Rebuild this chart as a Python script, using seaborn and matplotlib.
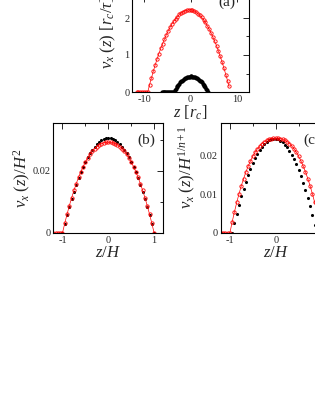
import numpy as np
import matplotlib
matplotlib.use('Agg')
import matplotlib.pyplot as plt
import seaborn as sns
from matplotlib.ticker import MultipleLocator, FuncFormatter

# panel (a): velocity profiles in units of r_c / tau
a_z_red = [-11.6, -11.2, -10.8, -10.4, -10.0, -9.6, -9.2, -8.8, -8.4, -8.0, -7.6, -7.2, -6.8, -6.4,
           -6.0, -5.6, -5.2, -4.8, -4.4, -4.0, -3.6, -3.2, -2.8, -2.4, -2.0, -1.6, -1.2, -0.8, -0.4,
           0.0, 0.4, 0.8, 1.2, 1.6, 2.0, 2.4, 2.8, 3.2, 3.6, 4.0, 4.4, 4.8, 5.2, 5.6, 6.0, 6.4, 6.8,
           7.2, 7.6, 8.0, 8.3]
a_v_red = [0, 0, 0, 0, 0, 0, 0, 0.20, 0.38, 0.56, 0.73, 0.89, 1.04, 1.18,
           1.31, 1.43, 1.55, 1.65, 1.75, 1.84, 1.91, 1.98, 2.04, 2.10, 2.14, 2.17, 2.20, 2.21, 2.22,
           2.22, 2.21, 2.19, 2.16, 2.12, 2.07, 2.02, 1.95, 1.88, 1.79, 1.70, 1.60, 1.49, 1.37, 1.25,
           1.11, 0.96, 0.81, 0.64, 0.47, 0.29, 0.15]
a_z_black = [-6.2, -6.0, -5.8, -5.6, -5.4, -5.2, -5.0, -4.8, -4.6, -4.4, -4.2, -4.0, -3.8, -3.6,
             -3.4, -3.2, -3.0, -2.8, -2.6, -2.4, -2.2, -2.0, -1.8, -1.6, -1.4, -1.2, -1.0, -0.8,
             -0.6, -0.4, -0.2, 0.0, 0.2, 0.4, 0.6, 0.8, 1.0, 1.2, 1.4, 1.6, 1.8, 2.0, 2.2, 2.4,
             2.6, 2.8, 3.0, 3.2, 3.4, 3.6, 3.8]
a_v_black = [0, 0, 0, 0, 0, 0, 0, 0, 0, 0, 0, 0, 0, 0,
             0.044, 0.086, 0.125, 0.162, 0.196, 0.228, 0.258, 0.285, 0.309, 0.331, 0.351, 0.368,
             0.383, 0.395, 0.405, 0.412, 0.417, 0.420, 0.420, 0.417, 0.412, 0.405, 0.395, 0.383,
             0.368, 0.351, 0.331, 0.309, 0.285, 0.258, 0.228, 0.196, 0.162, 0.125, 0.086, 0.044, 0]

# panels (b) and (c): scaled profiles vs z/H
zh = [-1.0, -0.95, -0.9, -0.85, -0.8, -0.75, -0.7, -0.65, -0.6, -0.55, -0.5, -0.45, -0.4, -0.35,
      -0.3, -0.25, -0.2, -0.15, -0.1, -0.05, 0.0, 0.05, 0.1, 0.15, 0.2, 0.25, 0.3, 0.35, 0.4,
      0.45, 0.5, 0.55, 0.6, 0.65, 0.7, 0.75, 0.8, 0.85, 0.9, 0.95, 1.0]
zh_wall = [-1.2, -1.15, -1.1, -1.05]

b_v_black = [0, 0.00297, 0.00580, 0.00846, 0.01098, 0.01334, 0.01556, 0.01761, 0.01952, 0.02127,
             0.02288, 0.02432, 0.02562, 0.02676, 0.02776, 0.02859, 0.02928, 0.02981, 0.03020,
             0.03042, 0.0305, 0.03042, 0.03020, 0.02981, 0.02928, 0.02859, 0.02776, 0.02676,
             0.02562, 0.02432, 0.02288, 0.02127, 0.01952, 0.01761, 0.01556, 0.01334, 0.01098,
             0.00846, 0.00580, 0.00297, 0]
b_v_red = [0, 0, 0, 0,
           0, 0.00311, 0.00604, 0.00878, 0.01133, 0.01369, 0.01588, 0.01788, 0.01971, 0.02136,
           0.02284, 0.02416, 0.02531, 0.02630, 0.02713, 0.02782, 0.02835, 0.02875, 0.02902,
           0.02916, 0.0292, 0.02916, 0.02902, 0.02875, 0.02835, 0.02782, 0.02713, 0.02630,
           0.02531, 0.02416, 0.02284, 0.02136, 0.01971, 0.01788, 0.01588, 0.01369, 0.01133,
           0.00878, 0.00604, 0.00311, 0]

c_z_black = [-0.95, -0.9, -0.85, -0.8, -0.75, -0.7, -0.65, -0.6, -0.55, -0.5, -0.45, -0.4, -0.35,
             -0.3, -0.25, -0.2, -0.15, -0.1, -0.05, 0.0, 0.05, 0.1, 0.15, 0.2, 0.25, 0.3, 0.35,
             0.4, 0.45, 0.5, 0.55, 0.6, 0.65, 0.7, 0.75, 0.8, 0.85, 0.89]
c_v_black = [0, 0.00256, 0.00498, 0.00725, 0.00938, 0.01136, 0.01321, 0.01491, 0.01647, 0.01788,
             0.01916, 0.02029, 0.02127, 0.02212, 0.02282, 0.02337, 0.02379, 0.02406, 0.02419,
             0.02417, 0.02402, 0.02372, 0.02327, 0.02269, 0.02196, 0.02109, 0.02007, 0.01891,
             0.01761, 0.01617, 0.01458, 0.01285, 0.01098, 0.00896, 0.00680, 0.00450, 0.00206, 0]
c_v_red = [0, 0, 0, 0,
           0, 0.00282, 0.00543, 0.00785, 0.01008, 0.01212, 0.01397, 0.01566, 0.01717, 0.01851,
           0.01970, 0.02072, 0.02160, 0.02234, 0.02295, 0.02343, 0.02379, 0.02404, 0.02420,
           0.02428, 0.0243, 0.02428, 0.02420, 0.02404, 0.02379, 0.02343, 0.02295, 0.02234,
           0.02160, 0.02072, 0.01970, 0.01851, 0.01717, 0.01566, 0.01397, 0.01212, 0.01008,
           0.00785, 0.00543, 0.00282, 0]

sns.set_style('white')
plt.rcParams['font.family'] = ['Liberation Serif', 'DejaVu Serif']
plt.rcParams['mathtext.fontset'] = 'custom'
plt.rcParams['mathtext.rm'] = 'Liberation Serif'
plt.rcParams['mathtext.it'] = 'Liberation Serif:italic'
plt.rcParams['axes.unicode_minus'] = False

W, H = 315, 407
fig = plt.figure(figsize=(W / 100, H / 100), dpi=100)
fig.patch.set_facecolor('white')


def px_axes(left, top, right, bottom):
    return fig.add_axes([left / W, (H - bottom) / H, (right - left) / W, (bottom - top) / H])


fmt = FuncFormatter(lambda v, p: f'{v:g}')


def style(ax, xlim, ylim, xmaj, xmin, ymaj, ymin):
    ax.set_xlim(*xlim)
    ax.set_ylim(*ylim)
    ax.xaxis.set_major_locator(MultipleLocator(xmaj))
    ax.xaxis.set_minor_locator(MultipleLocator(xmin))
    ax.yaxis.set_major_locator(MultipleLocator(ymaj))
    ax.yaxis.set_minor_locator(MultipleLocator(ymin))
    ax.xaxis.set_major_formatter(fmt)
    ax.yaxis.set_major_formatter(fmt)
    ax.tick_params(which='both', direction='in', top=True, right=True, labelsize=7.5,
                   width=0.7, pad=2)
    ax.tick_params(which='major', length=4)
    ax.tick_params(which='minor', length=2.5)
    for s in ax.spines.values():
        s.set_linewidth(0.8)
        s.set_color('black')
        s.set_visible(True)


red_kw = dict(color='red', marker='o', markersize=2.4, markerfacecolor='none',
              markeredgecolor='red', markeredgewidth=0.6, linewidth=0.5)

# (a)
ax_a = px_axes(132.4, -4.2, 248.6, 92)
sns.lineplot(x=a_z_red, y=a_v_red, ax=ax_a, **red_kw)
sns.scatterplot(x=a_z_black, y=a_v_black, ax=ax_a, color='black', s=9, linewidth=0)
style(ax_a, (-12.5, 12.5), (0, 2.6), 10, 5, 1, 0.5)
ax_a.set_xlabel(r'$z\ [r_c]$', fontsize=12, labelpad=0)
ax_a.set_ylabel(r'$v_x\ (z)\ [r_c/\tau]$', fontsize=12)
ax_a.yaxis.set_label_coords(-0.125, 0.62)
ax_a.text(0.737, 0.93, '(a)', transform=ax_a.transAxes, fontsize=11, va='center')

# (b)
ax_b = px_axes(53.3, 122.7, 163.3, 233)
sns.lineplot(x=zh_wall + zh, y=b_v_red, ax=ax_b, **red_kw)
sns.scatterplot(x=zh, y=b_v_black, ax=ax_b, color='black', s=5, linewidth=0)
style(ax_b, (-1.2, 1.2), (0, 0.0355), 1, 0.5, 0.02, 0.01)
ax_b.set_xlabel(r'$z/H$', fontsize=12, labelpad=0)
ax_b.set_ylabel(r'$v_x\ (z)/H^2$', fontsize=12)
ax_b.yaxis.set_label_coords(-0.18, 0.5)
ax_b.text(0.76, 0.84, '(b)', transform=ax_b.transAxes, fontsize=11, va='center')

# (c)
ax_c = px_axes(220.7, 122.7, 330.7, 233)
sns.scatterplot(x=c_z_black, y=c_v_black, ax=ax_c, color='black', s=5, linewidth=0)
sns.lineplot(x=zh_wall + zh, y=c_v_red, ax=ax_c, **red_kw)
style(ax_c, (-1.2, 1.2), (0, 0.0283), 1, 0.5, 0.01, 0.005)
ax_c.set_xlabel(r'$z/H$', fontsize=12, labelpad=0)
ax_c.set_ylabel(r'$v_x\ (z)/H^{1/n+1}$', fontsize=12)
ax_c.yaxis.set_label_coords(-0.21, 0.6)
ax_c.text(0.748, 0.84, '(c)', transform=ax_c.transAxes, fontsize=11, va='center')

for ax in (ax_a, ax_b, ax_c):
    leg = ax.get_legend()
    if leg is not None:
        leg.remove()

fig.savefig('out.png', dpi=100, facecolor='white')
